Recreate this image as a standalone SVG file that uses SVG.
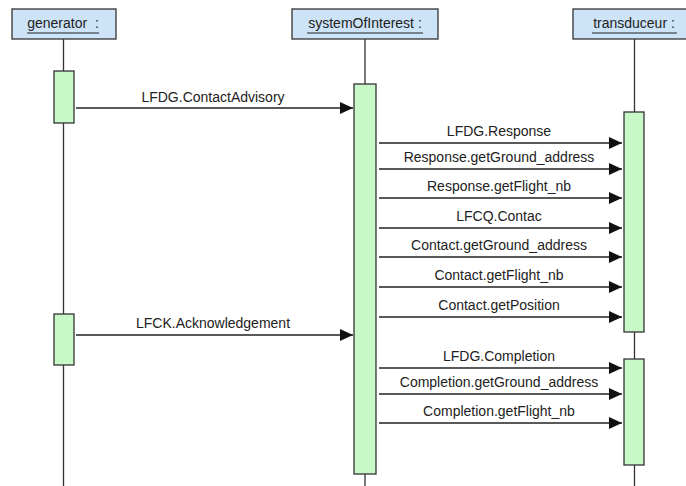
<svg xmlns="http://www.w3.org/2000/svg" width="686" height="486" viewBox="0 0 686 486">
<style>
text{font-family:"Liberation Sans",Arial,sans-serif;font-size:14px;fill:#222;text-anchor:middle}
.hdr{fill:#cde3f8;stroke:#333;stroke-width:1.3}
.act{fill:#c8f7c8;stroke:#333;stroke-width:1.3}
.life{stroke:#333;stroke-width:1.3;fill:none}
.msg{stroke:#222;stroke-width:1.5;fill:none;marker-end:url(#ah)}
.ul{stroke:#222;stroke-width:1.2}
</style>
<defs>
<marker id="ah" markerWidth="13" markerHeight="12" refX="13" refY="6" orient="auto" markerUnits="userSpaceOnUse">
<path d="M0,0 L13,6 L0,12 Z" fill="#111"/>
</marker>
</defs>
<rect width="686" height="486" fill="#fff"/>
<g id="generator">
<line class="life" x1="63.5" y1="39" x2="63.5" y2="486"/>
<rect class="hdr" x="12" y="9" width="104" height="30"/>
<text x="63" y="28" xml:space="preserve">generator  :</text>
<line class="ul" x1="27" y1="33" x2="99" y2="33"/>
<rect class="act" x="54" y="71" width="20" height="52"/>
<rect class="act" x="54" y="314" width="20" height="51"/>
</g>
<g id="systemOfInterest">
<line class="life" x1="365" y1="39" x2="365" y2="486"/>
<rect class="hdr" x="292" y="9" width="146" height="30"/>
<text x="365" y="28">systemOfInterest :</text>
<line class="ul" x1="307" y1="33" x2="423" y2="33"/>
<rect class="act" x="354" y="84" width="22" height="390"/>
</g>
<g id="transduceur">
<line class="life" x1="634.5" y1="39" x2="634.5" y2="486"/>
<rect class="hdr" x="573" y="9" width="124" height="30"/>
<text x="634" y="28">transduceur :</text>
<line class="ul" x1="592" y1="33" x2="677" y2="33"/>
<rect class="act" x="624" y="112" width="20" height="220"/>
<rect class="act" x="624" y="359" width="20" height="106"/>
</g>
<g id="connectors">
<line class="msg" x1="76" y1="108" x2="353" y2="108"/>
<text x="213" y="102">LFDG.ContactAdvisory</text>
<line class="msg" x1="76" y1="335" x2="353" y2="335"/>
<text x="213" y="328">LFCK.Acknowledgement</text>
<line class="msg" x1="379" y1="143" x2="622" y2="143"/>
<text x="499" y="135.5">LFDG.Response</text>
<line class="msg" x1="379" y1="169" x2="622" y2="169"/>
<text x="499" y="161.5">Response.getGround_address</text>
<line class="msg" x1="379" y1="198" x2="622" y2="198"/>
<text x="499" y="190.5">Response.getFlight_nb</text>
<line class="msg" x1="379" y1="228" x2="622" y2="228"/>
<text x="499" y="220.5">LFCQ.Contac</text>
<line class="msg" x1="379" y1="257" x2="622" y2="257"/>
<text x="499" y="249.5">Contact.getGround_address</text>
<line class="msg" x1="379" y1="287" x2="622" y2="287"/>
<text x="499" y="279.5">Contact.getFlight_nb</text>
<line class="msg" x1="379" y1="317" x2="622" y2="317"/>
<text x="499" y="309.5">Contact.getPosition</text>
<line class="msg" x1="379" y1="368" x2="622" y2="368"/>
<text x="499" y="360.5">LFDG.Completion</text>
<line class="msg" x1="379" y1="394" x2="622" y2="394"/>
<text x="499" y="386.5">Completion.getGround_address</text>
<line class="msg" x1="379" y1="423" x2="622" y2="423"/>
<text x="499" y="415.5">Completion.getFlight_nb</text>
</g>
</svg>
